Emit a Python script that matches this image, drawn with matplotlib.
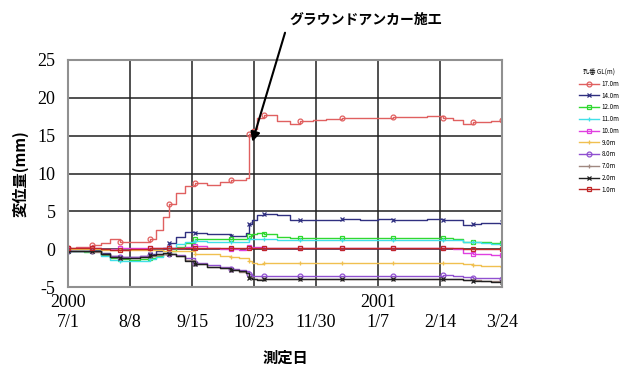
import numpy as np
import matplotlib.pyplot as plt

plt.rcParams['font.family'] = ['Noto Sans CJK JP', 'DejaVu Sans']

# 経過日数 (2000/7/1 起点)
days = [0, 5, 10, 15, 20, 26, 32, 38, 44, 50, 54, 58, 62, 66, 72, 78, 85, 93, 100, 105,
        109, 111, 113, 116, 120, 128, 136, 142, 150, 158, 168, 179, 190, 199, 210, 220,
        230, 236, 242, 248, 253, 259, 266]

gl170 = [0.2, 0.3, 0.3, 0.5, 0.8, 1.4, 1.0, 0.9, 1.0, 1.3, 2.5, 4.2, 6.0, 7.4, 8.4, 8.8, 8.5, 8.9, 9.1, 9.2,
         9.4, 15.2, 15.9, 17.4, 17.7, 17.0, 16.6, 17.0, 17.1, 17.2, 17.3, 17.4, 17.4, 17.5, 17.5, 17.6,
         17.4, 17.1, 16.6, 16.8, 16.8, 17.0, 17.1]
gl140 = [0.0, 0.0, 0.0, -0.1, -0.5, -0.9, -1.0, -1.0, -0.9, -0.6, -0.3, 0.2, 0.8, 1.6, 2.3, 2.2, 2.0, 2.0, 1.8, 1.7,
         2.2, 3.3, 3.8, 4.5, 4.7, 4.5, 3.9, 3.8, 3.9, 3.9, 4.0, 3.9, 4.0, 3.9, 3.9, 4.0,
         3.8, 3.8, 3.2, 3.3, 3.4, 3.5, 3.6]
gl120 = [-0.3, -0.2, -0.4, -0.3, -0.8, -1.2, -1.3, -1.4, -1.3, -1.2, -0.9, -0.6, -0.2, 0.3, 0.8, 1.4, 1.4, 1.4, 1.3, 1.3,
         1.4, 1.8, 2.0, 2.1, 2.0, 1.6, 1.5, 1.5, 1.5, 1.5, 1.5, 1.5, 1.5, 1.5, 1.5, 1.5,
         1.5, 1.4, 1.0, 0.9, 0.9, 0.8, 0.8]
gl110 = [-0.2, -0.2, -0.3, -0.3, -0.9, -1.4, -1.5, -1.6, -1.5, -1.3, -1.0, -0.5, 0.2, 0.7, 1.0, 1.1, 1.0, 1.0, 1.0, 1.0,
         1.0, 1.3, 1.4, 1.4, 1.3, 1.2, 1.2, 1.2, 1.2, 1.2, 1.2, 1.2, 1.2, 1.2, 1.2, 1.2,
         1.2, 1.2, 1.0, 0.9, 0.8, 0.7, 0.7]
gl100 = [0.0, 0.1, 0.1, 0.1, 0.0, 0.0, 0.1, 0.1, 0.1, 0.1, 0.1, 0.1, 0.1, 0.2, 0.3, 0.4, 0.2, 0.0, 0.0, -0.1,
         0.1, 0.3, 0.3, 0.3, 0.2, 0.1, 0.1, 0.1, 0.1, 0.1, 0.1, 0.1, 0.1, 0.1, 0.1, 0.1,
         0.1, 0.0, -0.5, -0.6, -0.7, -0.8, -0.8]
gl90 = [0.0, 0.0, 0.0, 0.0, -0.1, -0.1, -0.1, -0.1, -0.1, -0.1, -0.1, -0.2, -0.3, -0.3, -0.3, -0.6, -0.7, -0.9, -1.0, -1.1,
        -1.2, -1.6, -1.8, -1.9, -1.8, -1.8, -1.8, -1.8, -1.8, -1.8, -1.8, -1.8, -1.8, -1.8, -1.8, -1.8,
        -1.8, -1.8, -2.0, -2.1, -2.2, -2.2, -2.3]
gl80 = [-0.2, -0.2, -0.3, -0.3, -0.6, -0.9, -1.0, -1.0, -0.9, -0.8, -0.7, -0.6, -0.6, -0.8, -1.2, -1.8, -2.1, -2.3, -2.6, -2.8,
        -2.9, -3.3, -3.5, -3.5, -3.5, -3.5, -3.5, -3.5, -3.5, -3.5, -3.5, -3.5, -3.5, -3.5, -3.5, -3.5,
        -3.4, -3.5, -3.7, -3.8, -3.8, -3.8, -3.9]
gl70 = [-0.3, -0.3, -0.3, -0.4, -0.7, -1.0, -1.1, -1.1, -1.0, -0.9, -0.8, -0.7, -0.7, -0.9, -1.4, -2.0, -2.3, -2.5, -2.8, -3.0,
        -3.1, -3.7, -3.9, -4.0, -4.0, -4.0, -4.0, -4.0, -4.0, -4.0, -4.0, -4.0, -4.0, -4.0, -4.0, -4.0,
        -4.0, -4.0, -4.1, -4.1, -4.2, -4.2, -4.2]
gl20 = [-0.2, -0.2, -0.3, -0.2, -0.6, -1.0, -1.1, -1.2, -1.0, -0.8, -0.6, -0.5, -0.6, -0.9, -1.5, -2.0, -2.3, -2.5, -2.7, -2.9,
        -3.1, -3.8, -4.0, -4.1, -4.0, -4.0, -4.0, -4.0, -4.0, -4.0, -4.0, -4.0, -4.0, -4.0, -4.0, -4.0,
        -4.0, -4.0, -4.1, -4.2, -4.2, -4.3, -4.3]
gl10 = [0.2, 0.2, 0.1, 0.1, 0.0, -0.1, -0.1, 0.0, 0.0, 0.1, 0.1, 0.1, 0.1, 0.1, 0.1, 0.1, 0.1, 0.1, 0.1, 0.1,
        0.1, 0.1, 0.1, 0.1, 0.1, 0.1, 0.1, 0.1, 0.1, 0.1, 0.1, 0.1, 0.1, 0.1, 0.1, 0.1,
        0.1, 0.1, 0.0, 0.0, 0.0, 0.0, 0.0]

labels = ['17.0m', '14.0m', '12.0m', '11.0m', '10.0m', '9.0m', '8.0m', '7.0m', '2.0m', '1.0m']
series = [gl170, gl140, gl120, gl110, gl100, gl90, gl80, gl70, gl20, gl10]
colors = ['#e06060', '#303080', '#30d830', '#40e0e8', '#e040e0',
          '#f0c050', '#9050d0', '#a08880', '#202020', '#c02828']
markers = ['o', 'x', 's', '+', 's', '+', 'o', '+', 'x', 's']

tick_days = [0, 38, 76, 114, 152, 190, 228, 266]
tick_labels = ['2000\n7/1', '\n8/8', '\n9/15', '\n10/23', '\n11/30', '2001\n1/7', '\n2/14', '\n3/24']

fig = plt.figure(figsize=(6.23, 3.68), dpi=100)
ax = fig.add_axes([0.109, 0.22, 0.697, 0.617])

for vals, lab, c, m in zip(series, labels, colors, markers):
    ax.plot(days, vals, color=c, lw=1.0, drawstyle='steps-post', marker=m, ms=3.5,
            mfc='none', mew=0.9, markevery=3, label=lab)

ax.set_xlim(0, 266)
ax.set_ylim(-5, 25)
ax.set_yticks(range(-5, 26, 5))
ax.set_xticks(tick_days)
ax.set_xticklabels(tick_labels, family='Liberation Serif', fontsize=13, linespacing=1.2)
ax.set_yticklabels([str(v) for v in range(-5, 26, 5)], family='Liberation Serif', fontsize=13)
ax.tick_params(axis='x', length=0, pad=5)
ax.tick_params(axis='y', length=0, pad=9)
ax.grid(True, color='#202020', lw=1.1)
for s in ax.spines.values():
    s.set_color('#909090')
    s.set_linewidth(1.5)

ax.set_ylabel('変位量(mm)', fontsize=11, fontweight='bold', labelpad=6)
ax.set_xlabel('測定日', fontsize=11, fontweight='bold', labelpad=14)

# 施工時期の注記
ax.text(136, 30.3, 'グラウンドアンカー施工', fontsize=10, fontweight='bold',
        ha='left', va='center', clip_on=False)
ax.annotate('', xy=(113, 14.2), xytext=(133, 28.6), annotation_clip=False,
            arrowprops=dict(arrowstyle='-|>', color='black', lw=1.5, mutation_scale=14,
                            shrinkA=0, shrinkB=0))

leg = fig.legend(loc='upper left', bbox_to_anchor=(0.92, 0.83), frameon=False,
                 title='孔番 GL(m)', title_fontsize=4.5, fontsize=4.5, handlelength=3.2,
                 labelspacing=0.6, handletextpad=0.4)

fig.savefig('out.png', dpi=100)
